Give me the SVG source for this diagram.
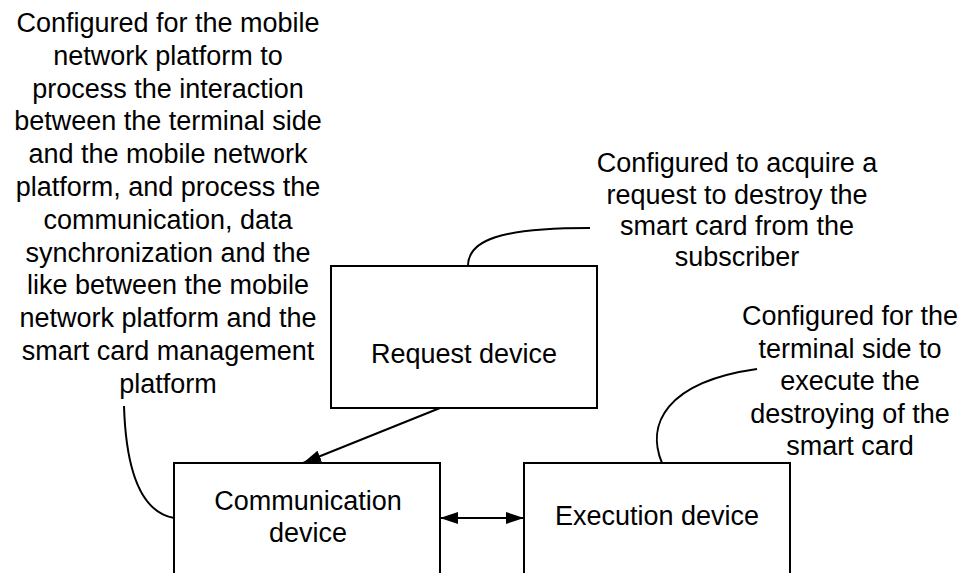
<svg xmlns="http://www.w3.org/2000/svg" width="961" height="573" viewBox="0 0 961 573">
<defs>
<style>
text { font-family: "Liberation Sans", Arial, sans-serif; font-size: 27px; fill: #000; text-anchor: middle; }
.box { fill: #fff; stroke: #000; stroke-width: 2; }
.conn { fill: none; stroke: #000; stroke-width: 2; }
.lead { fill: none; stroke: #000; stroke-width: 2; }
</style>
<marker id="ah" markerWidth="18" markerHeight="12" refX="18" refY="6" orient="auto-start-reverse" markerUnits="userSpaceOnUse">
<path d="M0,0 L18,6 L0,12 Z" fill="#000"/>
</marker>
</defs>
<g id="note-comm">
<text x="168" y="32">Configured for the mobile</text>
<text x="168" y="64.8">network platform to</text>
<text x="168" y="97.6">process the interaction</text>
<text x="168" y="130.4">between the terminal side</text>
<text x="168" y="163.2">and the mobile network</text>
<text x="168" y="196">platform, and process the</text>
<text x="168" y="228.8">communication, data</text>
<text x="168" y="261.6">synchronization and the</text>
<text x="168" y="294.4">like between the mobile</text>
<text x="168" y="327.2">network platform and the</text>
<text x="168" y="360">smart card management</text>
<text x="168" y="392.8">platform</text>
</g>
<g id="note-request">
<text x="737" y="172">Configured to acquire a</text>
<text x="737" y="203.5">request to destroy the</text>
<text x="737" y="235">smart card from the</text>
<text x="737" y="266">subscriber</text>
</g>
<g id="note-exec">
<text x="850" y="325">Configured for the</text>
<text x="850" y="357.5">terminal side to</text>
<text x="850" y="390">execute the</text>
<text x="850" y="422.5">destroying of the</text>
<text x="850" y="455">smart card</text>
</g>
<g id="request-device">
<rect class="box" x="331" y="266" width="266" height="142"/>
<text x="464" y="363">Request device</text>
</g>
<g id="communication-device">
<rect class="box" x="174" y="463" width="266" height="112"/>
<text x="308" y="510">Communication</text>
<text x="308" y="542">device</text>
</g>
<g id="execution-device">
<rect class="box" x="524" y="463" width="266" height="112"/>
<text x="657" y="525">Execution device</text>
</g>
<g id="connectors">
<path class="lead" d="M124,406 C126,470 140,512 174,518"/>
<path class="lead" d="M468,266 C468,240 500,228 590,228"/>
<path class="lead" d="M662,463 C646,425 665,382 757,369"/>
<line class="conn" x1="440" y1="408" x2="303" y2="463" marker-end="url(#ah)"/>
<line class="conn" x1="440" y1="518" x2="524" y2="518" marker-start="url(#ah)" marker-end="url(#ah)"/>
</g>
</svg>
